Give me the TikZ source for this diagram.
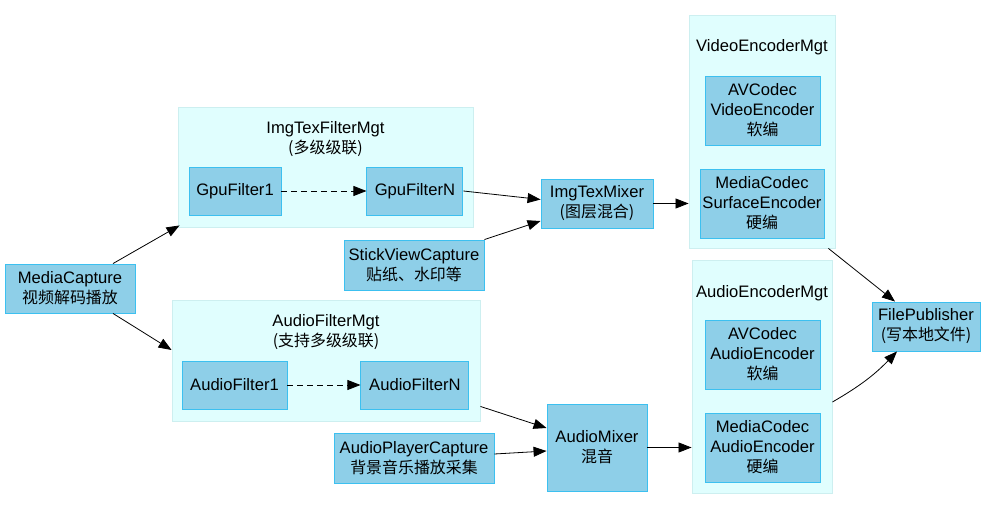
\documentclass[tikz,border=0pt]{standalone}
\usepackage{fontspec}
\setmainfont{Liberation Sans}
\newfontfamily\cjk[Scale=0.96]{Noto Sans CJK SC}
\usetikzlibrary{positioning, arrows.meta}
\definecolor{boxfill}{HTML}{8ECFE8}
\definecolor{boxline}{HTML}{3CC0F0}
\definecolor{mgtfill}{HTML}{E0FEFE}
\definecolor{mgtline}{HTML}{CDEFF0}

\begin{document}
\begin{tikzpicture}[x=1pt, y=1pt, font=\fontsize{16.6}{20}\selectfont,
	box/.style={draw=boxline, fill=boxfill, line width=0.9pt, align=center, inner sep=0pt},
	mgt/.style={draw=mgtline, fill=mgtfill, line width=0.9pt, inner sep=0pt},
	lbl/.style={align=center, inner sep=0pt},
	flow/.style={-{Triangle[length=13pt, width=10pt]}, line width=0.8pt}]
	\useasboundingbox (0,0) rectangle (985,509);
	% managers (clusters)
	\node[mgt, minimum width=295pt, minimum height=120pt] (ImgMgt) at (325.5,342) {};
	\node[lbl, below=15pt of ImgMgt.north] (ImgMgtLbl) {ImgTexFilterMgt\\{\cjk (多级级联)}};
	\node[mgt, minimum width=308pt, minimum height=121pt] (AudioMgt) at (326,148.5) {};
	\node[lbl, below=15pt of AudioMgt.north] (AudioMgtLbl) {AudioFilterMgt\\{\cjk (支持多级级联)}};
	\node[mgt, minimum width=146pt, minimum height=233pt] (VideoEncMgt) at (762,377.5) {};
	\node[lbl, below=25pt of VideoEncMgt.north] (VideoEncLbl) {VideoEncoderMgt};
	\node[mgt, minimum width=140pt, minimum height=233pt] (AudioEncMgt) at (762,132.5) {};
	\node[lbl, below=26pt of AudioEncMgt.north] (AudioEncLbl) {AudioEncoderMgt};
	% boxes
	\node[box, minimum width=130pt, minimum height=49pt] (MediaCapture) at (70,220.5) {MediaCapture\\{\cjk 视频解码播放}};
	\node[box, minimum width=92pt, minimum height=48pt] (GpuFilter1) at (235,318) {GpuFilter1};
	\node[box, minimum width=96pt, minimum height=48pt] (GpuFilterN) [right=85pt of GpuFilter1] {GpuFilterN};
	\node[box, minimum width=140pt, minimum height=50pt] (StickView) at (414,244) {StickViewCapture\\{\cjk 贴纸、水印等}};
	\node[box, minimum width=112pt, minimum height=49pt] (ImgTexMixer) at (597,305.5) {ImgTexMixer\\{\cjk (图层混合)}};
	\node[box, minimum width=115pt, minimum height=69pt] (AVVideoEnc) at (762.5,398.5) {AVCodec\\VideoEncoder\\{\cjk 软编}};
	\node[box, minimum width=124pt, minimum height=69pt] (SurfaceEnc) at (762,305.5) {MediaCodec\\SurfaceEncoder\\{\cjk 硬编}};
	\node[box, minimum width=105pt, minimum height=48pt] (AudioFilter1) at (234.5,124) {AudioFilter1};
	\node[box, minimum width=108pt, minimum height=48pt] (AudioFilterN) [right=73pt of AudioFilter1] {AudioFilterN};
	\node[box, minimum width=160pt, minimum height=50pt] (AudioPlayer) at (414,51) {AudioPlayerCapture\\{\cjk 背景音乐播放采集}};
	\node[box, minimum width=100pt, minimum height=87pt] (AudioMixer) at (597,61.5) {AudioMixer\\{\cjk 混音}};
	\node[box, minimum width=115pt, minimum height=69pt] (AVAudioEnc) at (762.5,154.5) {AVCodec\\AudioEncoder\\{\cjk 软编}};
	\node[box, minimum width=115pt, minimum height=69pt] (MCAudioEnc) at (762.5,61.5) {MediaCodec\\AudioEncoder\\{\cjk 硬编}};
	\node[box, minimum width=108pt, minimum height=49pt] (FilePublisher) at (926,182.5) {FilePublisher\\{\cjk (写本地文件)}};
	% connectors
	\draw[flow] ([xshift=43pt]MediaCapture.north) -- ([xshift=2pt,yshift=2pt]ImgMgt.south west);
	\draw[flow] ([xshift=43pt]MediaCapture.south) -- ([yshift=10.5pt]AudioMgt.west);
	\draw[flow, dash pattern=on 6pt off 4pt] (GpuFilter1) -- (GpuFilterN);
	\draw[flow, dash pattern=on 6pt off 4pt] (AudioFilter1) -- (AudioFilterN);
	\draw[flow] (GpuFilterN.east) -- ([yshift=4pt]ImgTexMixer.west);
	\draw[flow] (StickView.north east) -- ([yshift=-17.5pt]ImgTexMixer.west);
	\draw[flow] (ImgTexMixer.east) -- (ImgTexMixer.east -| VideoEncMgt.west);
	\draw[flow] ([xshift=-7pt]VideoEncMgt.south east) -- ([xshift=-31pt]FilePublisher.north);
	\draw[flow] ([yshift=15pt]AudioMgt.south east) -- ([yshift=19.5pt]AudioMixer.west);
	\draw[flow] ([yshift=4pt]AudioPlayer.east) -- ([yshift=-3.5pt]AudioMixer.west);
	\draw[flow] (AudioMixer.east) -- (AudioMixer.east -| AudioEncMgt.west);
	\draw[flow] ([yshift=-25.5pt]AudioEncMgt.east) to[bend right=8] ([xshift=-29pt]FilePublisher.south);
\end{tikzpicture}
\end{document}
